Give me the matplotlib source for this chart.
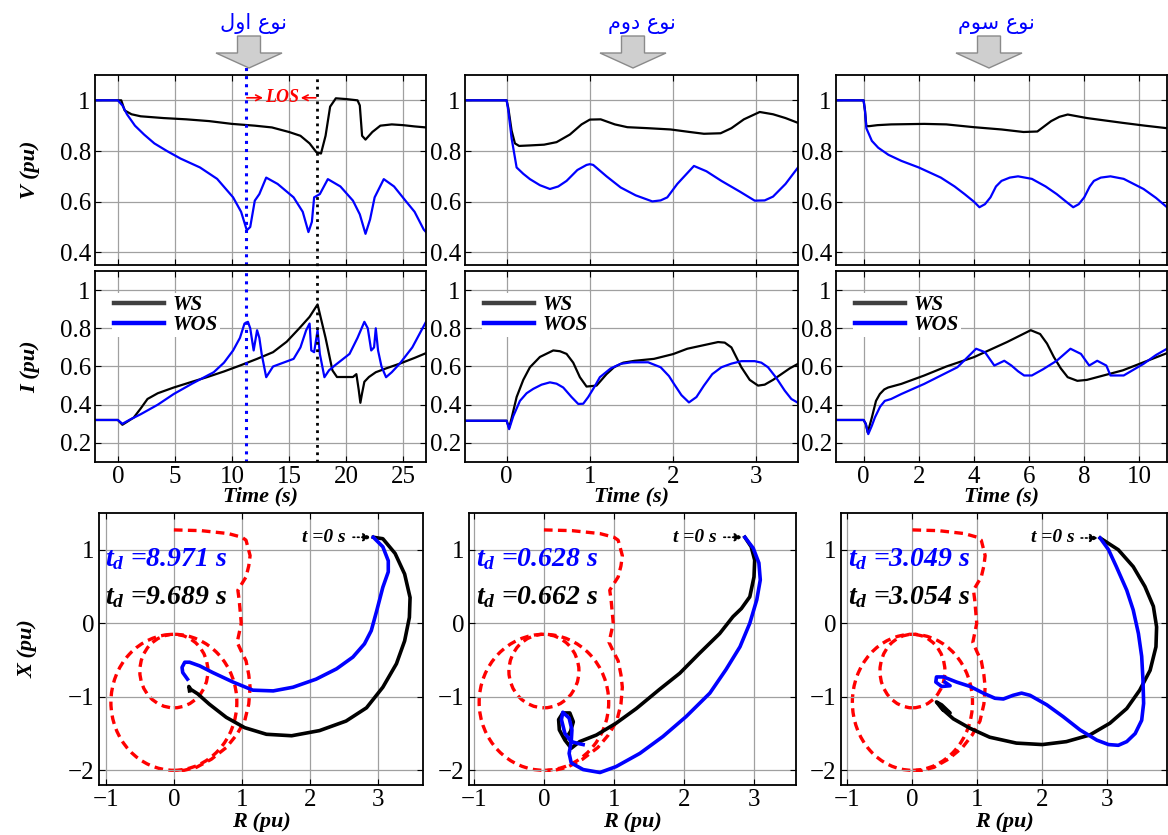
import matplotlib
matplotlib.use("Agg")
import matplotlib.pyplot as plt
from matplotlib.patches import Circle, FancyArrow
from matplotlib.ticker import FuncFormatter

# ---------------- data ----------------
# case 1 (نوع اول)
t1_v_ws = [-2, 0.3, 0.6, 1.2, 2, 4, 6, 8, 10, 12, 13.5, 15, 16, 16.8, 17.4, 17.8, 18.2, 18.6, 19.1,
           20, 21, 21.2, 21.4, 21.7, 22.3, 23, 24, 25, 26, 27]
v1_ws = [1.0, 1.0, 0.96, 0.945, 0.937, 0.93, 0.925, 0.918, 0.907, 0.9, 0.893, 0.875, 0.86, 0.83, 0.795,
         0.79, 0.86, 0.975, 1.008, 1.005, 1.0, 0.98, 0.86, 0.845, 0.875, 0.9, 0.905, 0.902, 0.897, 0.893]
t1_v_wos = [-2, 0, 0.4, 0.8, 1.5, 2.3, 3.2, 4.3, 5.5, 7.2, 8.7, 10.1, 10.8, 11.3, 11.6, 12.0, 12.4, 13.0,
            14.0, 15.4, 16.2, 16.7, 17.0, 17.2, 17.7, 18.4, 19.5, 20.6, 21.2, 21.7, 22.1, 22.5, 23.3,
            24.2, 25.2, 26.0, 26.8, 27]
v1_wos = [1.0, 1.0, 0.98, 0.945, 0.9, 0.865, 0.83, 0.8, 0.77, 0.735, 0.69, 0.617, 0.56, 0.487, 0.5,
          0.604, 0.63, 0.695, 0.67, 0.617, 0.56, 0.48, 0.52, 0.617, 0.63, 0.689, 0.66, 0.604, 0.55,
          0.473, 0.53, 0.617, 0.689, 0.66, 0.604, 0.56, 0.49, 0.48]
t1_i_ws = [-2, 0, 0.4, 0.8, 1.4, 2.0, 2.6, 3.5, 4.9, 6.5, 7.8, 9.3, 10.7, 12.2, 13.6, 14.8, 15.9, 16.8,
           17.5, 18.2, 18.8, 19.2, 20.6, 20.9, 21.1, 21.25, 21.4, 21.6, 22.0, 22.6, 23.5, 24.7, 26.0, 27]
i1_ws = [0.32, 0.32, 0.295, 0.31, 0.333, 0.38, 0.43, 0.46, 0.49, 0.52, 0.544, 0.574, 0.605, 0.64, 0.675,
         0.73, 0.80, 0.86, 0.925, 0.75, 0.58, 0.545, 0.545, 0.56, 0.48, 0.41, 0.46, 0.52, 0.545, 0.57,
         0.59, 0.615, 0.645, 0.67]
t1_i_wos = [-2, 0, 0.4, 1.0, 2.0, 3.5, 4.9, 6.5, 8.4, 9.3, 10.1, 10.7, 11.1, 11.4, 11.6, 11.9, 12.2,
            12.4, 12.6, 13.0, 13.6, 14.5, 15.4, 16.0, 16.5, 16.8, 16.95, 17.2, 17.5, 17.7, 18.1, 18.5,
            19.0, 20.3, 21.0, 21.6, 21.9, 22.2, 22.45, 22.6, 22.8, 23.1, 23.5, 24.0, 24.7, 25.8, 27]
i1_wos = [0.32, 0.32, 0.3, 0.32, 0.35, 0.40, 0.456, 0.51, 0.57, 0.62, 0.684, 0.75, 0.825, 0.834, 0.80,
          0.684, 0.79, 0.75, 0.666, 0.544, 0.6, 0.62, 0.64, 0.7, 0.79, 0.825, 0.684, 0.675, 0.79, 0.666,
          0.544, 0.58, 0.605, 0.666, 0.75, 0.834, 0.80, 0.684, 0.70, 0.80, 0.684, 0.60, 0.544, 0.57,
          0.615, 0.7, 0.834]
r1_ws = [2.93, 3.07, 3.25, 3.39, 3.47, 3.46, 3.39, 3.27, 3.07, 2.83, 2.53, 2.14, 1.73, 1.36, 1.04,
         0.77, 0.52, 0.35, 0.25, 0.22, 0.23]
x1_ws = [1.17, 1.15, 0.95, 0.67, 0.35, 0.08, -0.24, -0.55, -0.87, -1.15, -1.33, -1.46, -1.53, -1.51,
         -1.42, -1.28, -1.1, -0.96, -0.9, -0.86, -0.92]
r1_wos = [2.93, 3.07, 3.15, 3.15, 3.07, 2.98, 2.9, 2.8, 2.63, 2.39, 2.09, 1.75, 1.46, 1.16, 0.87, 0.57,
          0.38, 0.23, 0.16, 0.12, 0.13, 0.2]
x1_wos = [1.17, 1.04, 0.85, 0.7, 0.49, 0.17, -0.1, -0.28, -0.46, -0.62, -0.76, -0.87, -0.92, -0.91,
          -0.8, -0.67, -0.58, -0.53, -0.53, -0.6, -0.67, -0.76]

# case 2 (نوع دوم)
t2_v_ws = [-0.5, 0, 0.02, 0.06, 0.1, 0.15, 0.28, 0.45, 0.6, 0.76, 0.9, 1.0, 1.13, 1.3, 1.45, 1.7,
           1.97, 2.2, 2.37, 2.57, 2.7, 2.85, 3.04, 3.2, 3.35, 3.5]
v2_ws = [1.0, 1.0, 0.97, 0.88, 0.83, 0.82, 0.822, 0.825, 0.835, 0.865, 0.905, 0.924, 0.925, 0.905,
         0.894, 0.89, 0.885, 0.875, 0.868, 0.87, 0.89, 0.925, 0.954, 0.945, 0.93, 0.911]
t2_v_wos = [-0.5, 0, 0.02, 0.06, 0.12, 0.2, 0.28, 0.4, 0.52, 0.62, 0.72, 0.85, 0.96, 1.0, 1.04, 1.2,
            1.37, 1.55, 1.75, 1.85, 1.93, 2.05, 2.25, 2.4, 2.58, 2.8, 2.98, 3.1, 3.2, 3.35, 3.5]
v2_wos = [1.0, 1.0, 0.96, 0.85, 0.735, 0.71, 0.689, 0.665, 0.65, 0.66, 0.682, 0.725, 0.745, 0.748,
          0.745, 0.7, 0.656, 0.625, 0.601, 0.605, 0.617, 0.67, 0.741, 0.72, 0.682, 0.64, 0.604, 0.605,
          0.62, 0.67, 0.735]
t2_i_ws = [-0.5, 0, 0.03, 0.06, 0.12, 0.2, 0.28, 0.4, 0.56, 0.64, 0.72, 0.8, 0.88, 0.96, 1.08, 1.2,
           1.29, 1.4, 1.54, 1.77, 2.0, 2.17, 2.35, 2.54, 2.62, 2.7, 2.82, 2.92, 3.02, 3.1, 3.2, 3.3,
           3.4, 3.5]
i2_ws = [0.316, 0.316, 0.28, 0.33, 0.44, 0.53, 0.596, 0.65, 0.684, 0.68, 0.666, 0.62, 0.544, 0.495,
         0.5, 0.56, 0.596, 0.62, 0.63, 0.64, 0.665, 0.693, 0.71, 0.728, 0.725, 0.70, 0.596, 0.53, 0.5,
         0.505, 0.53, 0.56, 0.59, 0.614]
t2_i_wos = [-0.5, 0, 0.03, 0.08, 0.16, 0.24, 0.32, 0.42, 0.52, 0.6, 0.68, 0.78, 0.86, 0.92, 0.98,
            1.05, 1.12, 1.25, 1.37, 1.5, 1.7, 1.85, 1.95, 2.01, 2.1, 2.19, 2.28, 2.37, 2.47, 2.58, 2.7,
            2.82, 2.98, 3.06, 3.14, 3.24, 3.34, 3.42, 3.5]
i2_wos = [0.316, 0.316, 0.272, 0.34, 0.42, 0.46, 0.483, 0.505, 0.517, 0.51, 0.49, 0.44, 0.404, 0.405,
          0.44, 0.49, 0.544, 0.59, 0.614, 0.622, 0.622, 0.596, 0.55, 0.509, 0.45, 0.412, 0.44, 0.5,
          0.56, 0.596, 0.615, 0.628, 0.628, 0.62, 0.596, 0.54, 0.474, 0.43, 0.41]
r2_ws = [2.87, 2.96, 3.01, 3.0, 2.94, 2.82, 2.7, 2.51, 2.22, 1.94, 1.65, 1.32, 1.03, 0.75, 0.51, 0.39,
         0.3, 0.22, 0.21, 0.27, 0.37, 0.42, 0.38, 0.32]
x2_ws = [1.17, 1.04, 0.86, 0.63, 0.36, 0.2, 0.09, -0.14, -0.41, -0.68, -0.9, -1.16, -1.36, -1.52,
         -1.61, -1.7, -1.59, -1.45, -1.31, -1.22, -1.22, -1.34, -1.47, -1.56]
r2_wos = [2.87, 2.99, 3.07, 3.09, 3.04, 2.94, 2.8, 2.6, 2.37, 2.03, 1.7, 1.37, 1.03, 0.8, 0.56, 0.39,
          0.36, 0.39, 0.4, 0.36, 0.27, 0.25, 0.3, 0.39, 0.51, 0.56]
x2_wos = [1.17, 1.02, 0.82, 0.59, 0.32, 0.0, -0.32, -0.63, -0.95, -1.27, -1.54, -1.77, -1.95, -2.03,
          -1.99, -1.9, -1.77, -1.61, -1.45, -1.29, -1.21, -1.31, -1.5, -1.61, -1.64, -1.65]

# case 3 (نوع سوم)
t3_v_ws = [-1, 0, 0.05, 0.1, 0.2, 0.5, 1.0, 2.2, 3.0, 4.0, 5.0, 5.8, 6.3, 6.8, 7.1, 7.4, 8.1, 9.4,
           10.2, 11]
v3_ws = [1.0, 1.0, 0.96, 0.898, 0.898, 0.902, 0.905, 0.907, 0.905, 0.894, 0.885, 0.875, 0.877, 0.918,
         0.935, 0.944, 0.93, 0.911, 0.9, 0.89]
t3_v_wos = [-1, 0, 0.05, 0.1, 0.3, 0.53, 0.9, 1.37, 2.0, 2.8, 3.3, 3.66, 4.0, 4.2, 4.4, 4.6, 4.8, 5.0,
            5.3, 5.6, 6.1, 6.6, 7.0, 7.4, 7.6, 7.8, 8.0, 8.2, 8.35, 8.6, 8.95, 9.43, 10.15, 10.6, 11]
v3_wos = [1.0, 1.0, 0.96, 0.89, 0.84, 0.813, 0.785, 0.761, 0.735, 0.695, 0.66, 0.63, 0.6, 0.578, 0.59,
          0.617, 0.66, 0.682, 0.695, 0.7, 0.69, 0.66, 0.63, 0.595, 0.578, 0.59, 0.617, 0.66, 0.682,
          0.695, 0.7, 0.69, 0.65, 0.615, 0.578]
t3_i_ws = [-1, 0, 0.08, 0.15, 0.3, 0.45, 0.59, 0.75, 0.89, 1.37, 2.2, 3.0, 4.0, 5.2, 6.06, 6.4, 6.65,
           6.9, 7.15, 7.4, 7.75, 8.1, 9.4, 10.2, 11]
i3_ws = [0.32, 0.32, 0.3, 0.254, 0.333, 0.42, 0.456, 0.48, 0.49, 0.509, 0.553, 0.6, 0.649, 0.728, 0.79,
         0.77, 0.72, 0.649, 0.59, 0.544, 0.525, 0.53, 0.58, 0.625, 0.67]
t3_i_wos = [-1, 0, 0.08, 0.17, 0.3, 0.41, 0.6, 0.77, 1.0, 1.37, 2.2, 3.4, 4.08, 4.4, 4.74, 5.1, 5.36,
            5.6, 5.82, 6.1, 6.5, 7.0, 7.5, 7.88, 8.18, 8.47, 8.8, 8.95, 9.43, 10.15, 10.6, 11]
i3_wos = [0.32, 0.32, 0.3, 0.246, 0.29, 0.333, 0.39, 0.42, 0.43, 0.456, 0.509, 0.596, 0.693, 0.675,
          0.605, 0.63, 0.605, 0.575, 0.553, 0.553, 0.585, 0.63, 0.693, 0.666, 0.605, 0.63, 0.605,
          0.553, 0.553, 0.614, 0.66, 0.693]
r3_ws = [2.89, 3.17, 3.4, 3.58, 3.71, 3.76, 3.75, 3.66, 3.5, 3.3, 3.04, 2.73, 2.37, 2.0, 1.6, 1.19,
         0.89, 0.63, 0.45, 0.37, 0.45, 0.58, 0.48]
x3_ws = [1.16, 1.0, 0.77, 0.5, 0.23, -0.05, -0.32, -0.64, -0.91, -1.16, -1.36, -1.52, -1.61, -1.65,
         -1.63, -1.55, -1.43, -1.3, -1.16, -1.07, -1.11, -1.22, -1.18]
r3_wos = [2.89, 3.02, 3.14, 3.3, 3.4, 3.48, 3.53, 3.55, 3.56, 3.53, 3.43, 3.3, 3.17, 3.02, 2.84, 2.58,
          2.32, 2.07, 1.81, 1.68, 1.55, 1.4, 1.27, 1.09, 0.89, 0.68, 0.48, 0.37, 0.36, 0.45, 0.58, 0.5]
x3_wos = [1.16, 1.0, 0.77, 0.45, 0.18, -0.14, -0.45, -0.77, -1.09, -1.32, -1.5, -1.61, -1.66, -1.65,
          -1.59, -1.45, -1.27, -1.11, -0.98, -0.95, -0.98, -1.03, -1.02, -0.95, -0.86, -0.8, -0.73,
          -0.73, -0.8, -0.86, -0.85, -0.8]

# relay characteristic (same in all three R-X plots)
zone_r = [0.0, 0.4, 0.8, 1.0, 1.06, 1.12, 1.1, 1.06, 0.94, 0.96, 0.99, 0.93, 1.0, 1.06, 1.1, 1.12,
          1.1, 1.04, 0.92, 0.77, 0.55, 0.33, 0.15, 0.05]
zone_x = [1.27, 1.26, 1.22, 1.17, 1.13, 0.92, 0.78, 0.63, 0.45, 0.31, 0.0, -0.26, -0.4, -0.51, -0.7,
          -0.87, -1.1, -1.33, -1.52, -1.69, -1.85, -1.96, -2.0, -2.0]
mho_small = ((0.0, -0.65), 0.5)
mho_big = ((0.0, -1.075), 0.925)

titles = ["نوع اول", "نوع دوم", "نوع سوم"]
td_wos = ["8.971", "0.628", "3.049"]
td_ws = ["9.689", "0.662", "3.054"]
t_xlims = [(-2, 27), (-0.5, 3.5), (-1, 11)]
t_xticks = [[0, 5, 10, 15, 20, 25], [0, 1, 2, 3], [0, 2, 4, 6, 8, 10]]
rx_xlims = [(-1.1, 3.66), (-1.07, 3.6), (-1.1, 3.92)]
los_start, los_end = 11.2, 17.45

cases = [
    (t1_v_ws, v1_ws, t1_v_wos, v1_wos, t1_i_ws, i1_ws, t1_i_wos, i1_wos, r1_ws, x1_ws, r1_wos, x1_wos),
    (t2_v_ws, v2_ws, t2_v_wos, v2_wos, t2_i_ws, i2_ws, t2_i_wos, i2_wos, r2_ws, x2_ws, r2_wos, x2_wos),
    (t3_v_ws, v3_ws, t3_v_wos, v3_wos, t3_i_ws, i3_ws, t3_i_wos, i3_wos, r3_ws, x3_ws, r3_wos, x3_wos),
]

# ---------------- persian shaping (matplotlib has no bidi/shaping) ----------------
AR_FORMS = {
    "ا": ("\ufe8d", "\ufe8e", None, None),
    "د": ("\ufea9", "\ufeaa", None, None),
    "و": ("\ufeed", "\ufeee", None, None),
    "س": ("\ufeb1", "\ufeb2", "\ufeb3", "\ufeb4"),
    "ع": ("\ufec9", "\ufeca", "\ufecb", "\ufecc"),
    "ل": ("\ufedd", "\ufede", "\ufedf", "\ufee0"),
    "م": ("\ufee1", "\ufee2", "\ufee3", "\ufee4"),
    "ن": ("\ufee5", "\ufee6", "\ufee7", "\ufee8"),
}


def shape_fa(s):
    out = []
    for i, ch in enumerate(s):
        if ch not in AR_FORMS:
            out.append(ch)
            continue
        prev = s[i - 1] if i > 0 else ""
        nxt = s[i + 1] if i + 1 < len(s) else ""
        iso, fin, ini, med = AR_FORMS[ch]
        jp = prev in AR_FORMS and AR_FORMS[prev][2] is not None
        jn = ini is not None and nxt in AR_FORMS
        out.append(med if (jp and jn) else fin if jp else ini if jn else iso)
    return "".join(reversed(out))


# ---------------- style ----------------
plt.rcParams.update({
    "font.family": "Liberation Serif",
    "mathtext.fontset": "custom",
    "mathtext.it": "Liberation Serif:italic:bold",
    "mathtext.rm": "Liberation Serif:bold",
    "axes.linewidth": 1.3,
    "xtick.direction": "in",
    "ytick.direction": "in",
    "xtick.top": True,
    "ytick.right": True,
    "xtick.major.size": 4,
    "ytick.major.size": 4,
    "xtick.labelsize": 18,
    "ytick.labelsize": 18,
    "xtick.major.pad": 3,
    "ytick.major.pad": 3,
    "grid.color": "#a0a0a0",
    "grid.linewidth": 0.9,
})

W, H = 1168, 835
fig = plt.figure(figsize=(W / 100, H / 100), dpi=100)

col_x = [(95, 331), (465, 333), (836, 331)]
rx_x = [(99, 324), (469, 327), (841, 326)]
fmt = FuncFormatter(lambda v, p: "%g" % v)
lab = dict(fontsize=16, fontweight="bold", style="italic")
title_x = [254, 642, 996]
arrow_x = [249, 633, 989]
dash = (0, (2.6, 1.6))

for c in range(3):
    tvw, vw, tvo, vo, tiw, iw, tio, io, rw, xw, ro, xo = cases[c]
    x0, w = col_x[c]
    axv = fig.add_axes([x0 / W, 1 - 265 / H, w / W, 190 / H])
    axi = fig.add_axes([x0 / W, 1 - 462 / H, w / W, 191 / H], sharex=axv)
    rx0, rw_ = rx_x[c]
    axr = fig.add_axes([rx0 / W, 1 - 785 / H, rw_ / W, 272 / H])

    # voltage
    axv.plot(tvw, vw, color="black", lw=1.6)
    axv.plot(tvo, vo, color="blue", lw=1.6)
    axv.set_ylim(0.35, 1.1)
    axv.set_yticks([0.4, 0.6, 0.8, 1.0])
    axv.yaxis.set_major_formatter(fmt)
    axv.tick_params(labelbottom=False)
    axv.grid(True)

    # current
    axi.plot(tiw, iw, color="black", lw=1.6, label="WS")
    axi.plot(tio, io, color="blue", lw=1.6, label="WOS")
    axi.set_ylim(0.1, 1.1)
    axi.set_yticks([0.2, 0.4, 0.6, 0.8, 1.0])
    axi.yaxis.set_major_formatter(fmt)
    axi.set_xlim(*t_xlims[c])
    axi.set_xticks(t_xticks[c])
    axi.grid(True)
    axi.set_xlabel("Time (s)", **lab)
    axi.xaxis.set_label_coords(0.5, -0.13)
    leg = axi.legend(loc="upper left", bbox_to_anchor=(0.02, 0.94), frameon=True, fancybox=False,
                     edgecolor="none", framealpha=1, borderpad=0.1, handlelength=2.4,
                     handletextpad=0.4, labelspacing=0.02,
                     prop=dict(family="Liberation Serif", size=15, weight="bold", style="italic"))
    for hl in leg.get_lines():
        hl.set_linewidth(3.2)
    leg.get_lines()[0].set_color("#404040")

    # R-X plane
    axr.add_patch(Circle(mho_small[0], mho_small[1], fill=False, ec="red", lw=2.4, ls=dash))
    axr.add_patch(Circle(mho_big[0], mho_big[1], fill=False, ec="red", lw=2.4, ls=dash))
    axr.plot(zone_r, zone_x, color="red", lw=2.4, ls=dash)
    axr.plot(rw, xw, color="black", lw=2.6)
    axr.plot(ro, xo, color="blue", lw=2.6)
    axr.set_xlim(*rx_xlims[c])
    axr.set_ylim(-2.2, 1.5)
    axr.set_xticks([-1, 0, 1, 2, 3])
    axr.set_yticks([-2, -1, 0, 1])
    axr.grid(True)
    axr.set_xlabel("R (pu)", **lab)
    axr.xaxis.set_label_coords(0.5, -0.1)
    axr.annotate("t =0 s", xy=(rw[0] - 0.03, xw[0]), xytext=(rw[0] - 0.4, xw[0]),
                 ha="right", va="center", fontsize=14, fontweight="bold", style="italic",
                 arrowprops=dict(arrowstyle="-|>", color="black", lw=1.2, ls=":",
                                 shrinkA=3, shrinkB=0, mutation_scale=12))
    axr.text(0.02, 0.83, r"$t_d$ =" + td_wos[c] + " s", transform=axr.transAxes, color="blue",
             fontsize=20, fontweight="bold", style="italic", va="center")
    axr.text(0.02, 0.69, r"$t_d$ =" + td_ws[c] + " s", transform=axr.transAxes, color="black",
             fontsize=20, fontweight="bold", style="italic", va="center")

    if c == 0:
        axv.set_ylabel("V (pu)", **lab)
        axv.yaxis.set_label_coords(-0.165, 0.5)
        axi.set_ylabel("I (pu)", **lab)
        axi.yaxis.set_label_coords(-0.165, 0.5)
        axr.set_ylabel("X (pu)", **lab)
        axr.yaxis.set_label_coords(-0.19, 0.5)
        # loss-of-synchronism window
        axv.axvline(los_start, ymin=-0.04, ymax=1.04, color="blue", ls=":", lw=2.2, clip_on=False)
        axv.axvline(los_end, ymin=-0.04, ymax=1.0, color="black", ls=":", lw=2.0, clip_on=False)
        axi.axvline(los_start, color="blue", ls=":", lw=2.2)
        axi.axvline(los_end, color="black", ls=":", lw=2.0)
        mid = (los_start + los_end) / 2
        axv.text(mid + 0.1, 1.01, "LOS", color="red", fontsize=13, fontweight="bold",
                 style="italic", ha="center", va="center")
        axv.annotate("", xy=(mid - 1.6, 1.01), xytext=(los_start + 0.1, 1.01),
                     arrowprops=dict(arrowstyle="->", color="red", lw=1.2, shrinkA=0, shrinkB=0))
        axv.annotate("", xy=(mid + 1.7, 1.01), xytext=(los_end - 0.1, 1.01),
                     arrowprops=dict(arrowstyle="->", color="red", lw=1.2, shrinkA=0, shrinkB=0))

    # case title with block arrow
    fig.text(title_x[c] / W, 1 - 24 / H, shape_fa(titles[c]), color="blue", fontsize=15,
             family="DejaVu Sans", ha="center", va="center")
    fig.add_artist(FancyArrow(arrow_x[c] / W, 1 - 36 / H, 0, -32 / H, width=23 / W,
                              head_width=66 / W, head_length=15 / H, length_includes_head=True,
                              transform=fig.transFigure, fc="#cfcfcf", ec="#8a8a8a", lw=1))

fig.savefig("out.png", dpi=100)
